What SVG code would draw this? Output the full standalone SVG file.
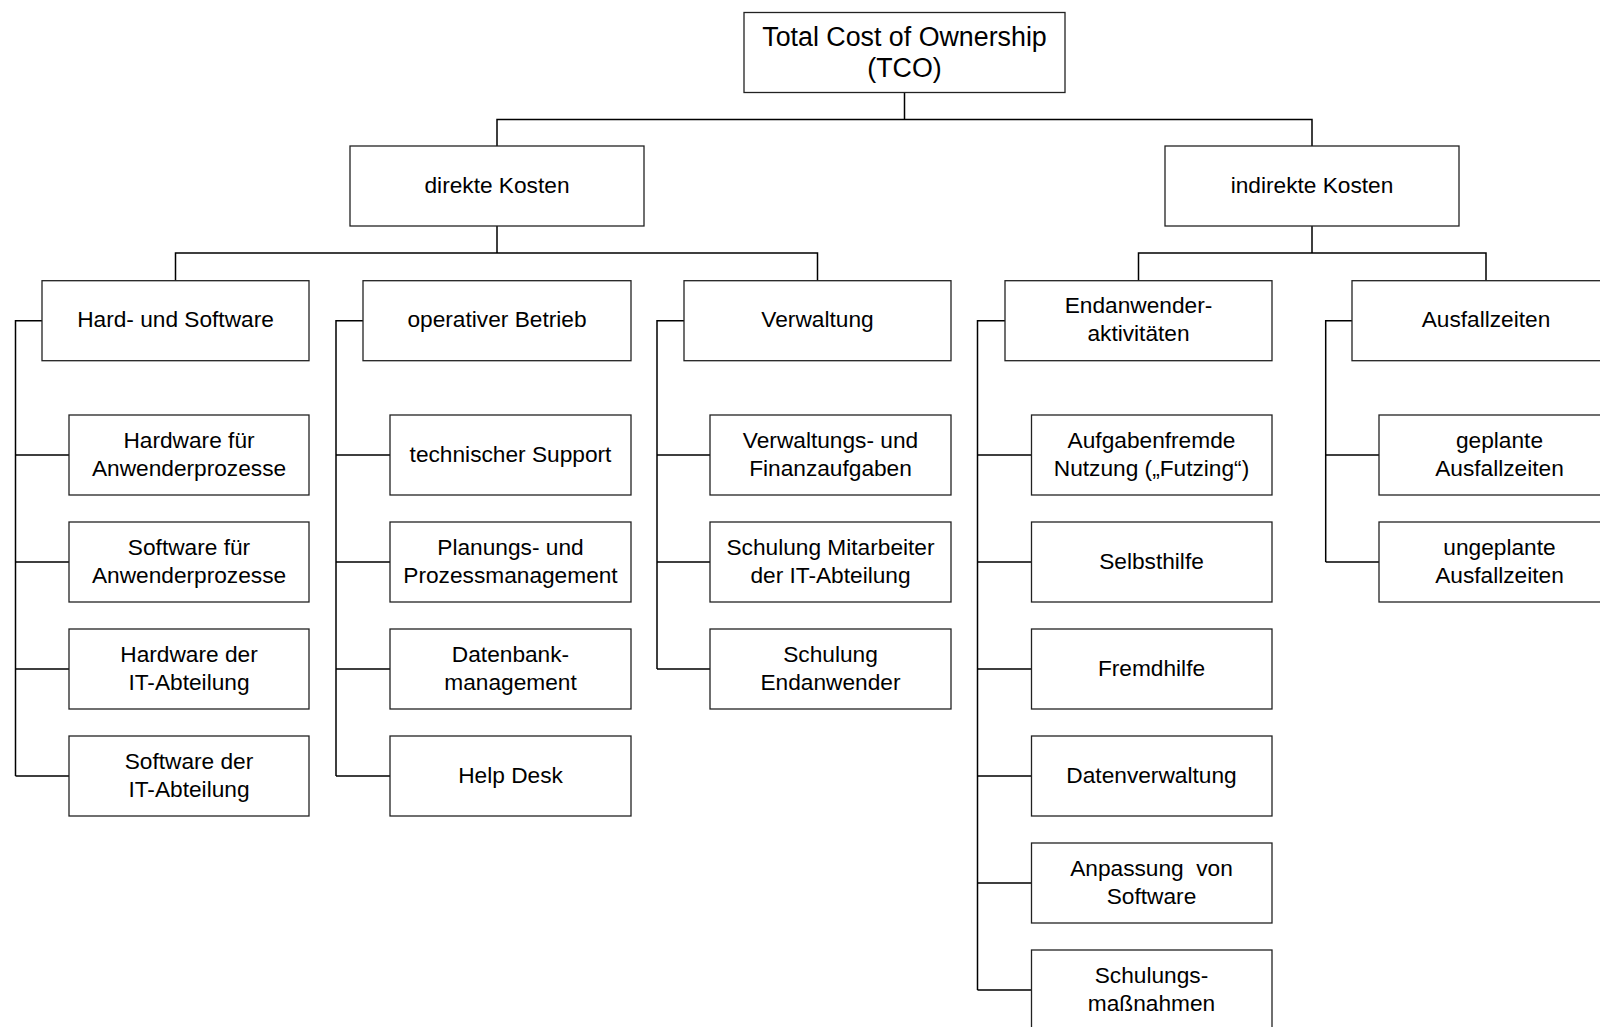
<svg xmlns="http://www.w3.org/2000/svg" width="1600" height="1027" viewBox="0 0 1600 1027">
<style>
.box{fill:#fff;stroke:#222;stroke-width:1.3}
.t{font-family:"Liberation Sans",Arial,sans-serif;font-size:22.7px;fill:#000;text-anchor:middle}
.big{font-size:26.8px}
.c{fill:none;stroke:#000;stroke-width:1.5}
</style>
<rect width="1600" height="1027" fill="#fff"/>
<g id="connectors">
<path class="c" d="M904.5 92.5V119.5M497 146V119.5H1312V146"/>
<path class="c" d="M497 226V253M175.5 280.7V253H817.5V280.7"/>
<path class="c" d="M1312 226V253M1138.5 280.7V253H1486V280.7"/>
<path class="c" d="M42 320.7H15.5V776M15.5 455H69M15.5 562H69M15.5 669H69M15.5 776H69"/>
<path class="c" d="M363 320.7H336V776M336 455H390M336 562H390M336 669H390M336 776H390"/>
<path class="c" d="M684 320.7H657V669M657 455H710M657 562H710M657 669H710"/>
<path class="c" d="M1005 320.7H977.5V990M977.5 455H1031.5M977.5 562H1031.5M977.5 669H1031.5M977.5 776H1031.5M977.5 883H1031.5M977.5 990H1031.5"/>
<path class="c" d="M1352 320.7H1325.7V562M1325.7 455H1379M1325.7 562H1379"/>
</g>
<g id="tco"><rect class="box" x="744" y="12.5" width="321" height="80"/><text class="t big" x="904.5" y="45.5">Total Cost of Ownership</text><text class="t big" x="904.5" y="77">(TCO)</text></g>
<g id="direkte"><rect class="box" x="350" y="146" width="294" height="80"/><text class="t" x="497" y="193">direkte Kosten</text></g>
<g id="indirekte"><rect class="box" x="1165" y="146" width="294" height="80"/><text class="t" x="1312" y="193">indirekte Kosten</text></g>
<g id="hardsoft"><rect class="box" x="42" y="280.7" width="267" height="80"/><text class="t" x="175.5" y="327">Hard- und Software</text></g>
<g id="operativ"><rect class="box" x="363" y="280.7" width="268" height="80"/><text class="t" x="497" y="327">operativer Betrieb</text></g>
<g id="verwaltung"><rect class="box" x="684" y="280.7" width="267" height="80"/><text class="t" x="817.5" y="327">Verwaltung</text></g>
<g id="endanwender"><rect class="box" x="1005" y="280.7" width="267" height="80"/><text class="t" x="1138.5" y="313">Endanwender-</text><text class="t" x="1138.5" y="340.5">aktivitäten</text></g>
<g id="ausfall"><rect class="box" x="1352" y="280.7" width="268" height="80"/><text class="t" x="1486" y="327">Ausfallzeiten</text></g>
<g id="hw-anw"><rect class="box" x="69" y="415" width="240" height="80"/><text class="t" x="189" y="448">Hardware für</text><text class="t" x="189" y="475.5">Anwenderprozesse</text></g>
<g id="sw-anw"><rect class="box" x="69" y="522" width="240" height="80"/><text class="t" x="189" y="555">Software für</text><text class="t" x="189" y="582.5">Anwenderprozesse</text></g>
<g id="hw-it"><rect class="box" x="69" y="629" width="240" height="80"/><text class="t" x="189" y="662">Hardware der</text><text class="t" x="189" y="689.5">IT-Abteilung</text></g>
<g id="sw-it"><rect class="box" x="69" y="736" width="240" height="80"/><text class="t" x="189" y="769">Software der</text><text class="t" x="189" y="796.5">IT-Abteilung</text></g>
<g id="support"><rect class="box" x="390" y="415" width="241" height="80"/><text class="t" x="510.5" y="461.5">technischer Support</text></g>
<g id="planung"><rect class="box" x="390" y="522" width="241" height="80"/><text class="t" x="510.5" y="555">Planungs- und</text><text class="t" x="510.5" y="582.5">Prozessmanagement</text></g>
<g id="datenbank"><rect class="box" x="390" y="629" width="241" height="80"/><text class="t" x="510.5" y="662">Datenbank-</text><text class="t" x="510.5" y="689.5">management</text></g>
<g id="helpdesk"><rect class="box" x="390" y="736" width="241" height="80"/><text class="t" x="510.5" y="782.5">Help Desk</text></g>
<g id="finanz"><rect class="box" x="710" y="415" width="241" height="80"/><text class="t" x="830.5" y="448">Verwaltungs- und</text><text class="t" x="830.5" y="475.5">Finanzaufgaben</text></g>
<g id="schulung-it"><rect class="box" x="710" y="522" width="241" height="80"/><text class="t" x="830.5" y="555">Schulung Mitarbeiter</text><text class="t" x="830.5" y="582.5">der IT-Abteilung</text></g>
<g id="schulung-end"><rect class="box" x="710" y="629" width="241" height="80"/><text class="t" x="830.5" y="662">Schulung</text><text class="t" x="830.5" y="689.5">Endanwender</text></g>
<g id="futzing"><rect class="box" x="1031.5" y="415" width="240.5" height="80"/><text class="t" x="1151.5" y="448">Aufgabenfremde</text><text class="t" x="1151.5" y="475.5">Nutzung („Futzing“)</text></g>
<g id="selbsthilfe"><rect class="box" x="1031.5" y="522" width="240.5" height="80"/><text class="t" x="1151.5" y="568.5">Selbsthilfe</text></g>
<g id="fremdhilfe"><rect class="box" x="1031.5" y="629" width="240.5" height="80"/><text class="t" x="1151.5" y="675.5">Fremdhilfe</text></g>
<g id="datenverwaltung"><rect class="box" x="1031.5" y="736" width="240.5" height="80"/><text class="t" x="1151.5" y="782.5">Datenverwaltung</text></g>
<g id="anpassung"><rect class="box" x="1031.5" y="843" width="240.5" height="80"/><text class="t" x="1151.5" y="876" xml:space="preserve">Anpassung  von</text><text class="t" x="1151.5" y="903.5">Software</text></g>
<g id="schulungsmassnahmen"><rect class="box" x="1031.5" y="950" width="240.5" height="80"/><text class="t" x="1151.5" y="983">Schulungs-</text><text class="t" x="1151.5" y="1010.5">maßnahmen</text></g>
<g id="geplant"><rect class="box" x="1379" y="415" width="241" height="80"/><text class="t" x="1499.5" y="448">geplante</text><text class="t" x="1499.5" y="475.5">Ausfallzeiten</text></g>
<g id="ungeplant"><rect class="box" x="1379" y="522" width="241" height="80"/><text class="t" x="1499.5" y="555">ungeplante</text><text class="t" x="1499.5" y="582.5">Ausfallzeiten</text></g>
</svg>
